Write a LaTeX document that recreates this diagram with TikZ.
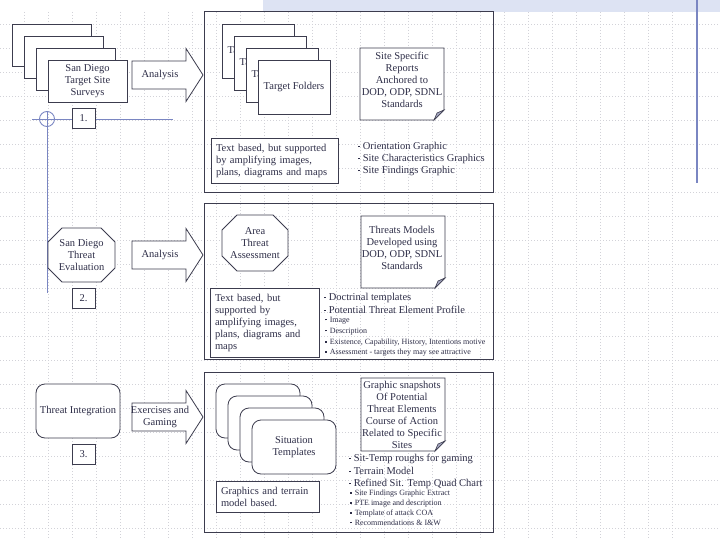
\documentclass[tikz,border=0pt]{standalone}
\usepackage{fontspec}
\setmainfont{Liberation Serif}
\usetikzlibrary{positioning, calc}
\definecolor{slideline}{HTML}{3C3C4E}
\definecolor{slidetext}{HTML}{2E2E48}
\definecolor{slidegrid}{HTML}{D2D2D8}
\definecolor{slideblue}{HTML}{7A86C2}
\definecolor{slideband}{HTML}{DDE3F3}
\definecolor{slidefold}{HTML}{A4A6C0}
\newcommand{\bulsq}{\rule[2.4pt]{1.6pt}{1.6pt}\hspace{3pt}}

\begin{document}
\begin{tikzpicture}[x=1pt, y=-1pt,
  every node/.style={text=slidetext, font=\fontsize{10.5}{12}\selectfont},
  gridline/.style={draw=slidegrid, line width=0.5pt, dash pattern=on 1pt off 2pt},
  stackbox/.style={draw=slideline, line width=0.8pt, fill=white},
  frame/.style={draw=slideline, line width=1pt},
  numbox/.style={stackbox, minimum width=23, minimum height=20, inner sep=0pt},
  textbox/.style={stackbox, align=left, inner xsep=5pt, inner ysep=0pt},
  bullet/.style={anchor=west, inner sep=0pt},
  smallbullet/.style={bullet, font=\fontsize{8}{9}\selectfont}]
\useasboundingbox (0,0) rectangle (720,540);
\fill[white] (0,0) rectangle (720,540);
% Slide background
\foreach \gx in {24,48,...,672} \draw[gridline] (\gx,12) -- (\gx,540);
\foreach \gy in {24,48,...,528} \draw[gridline] (0,\gy) -- (720,\gy);
\fill[slideband] (263,0) rectangle (720,12);
\draw[slideblue, line width=1.5pt] (697,0) -- (697,183);
\draw[slideblue, line width=0.9pt] (32,119) -- (173,119);
\draw[slideblue, line width=0.9pt] (47,111) -- (47,293);
\draw[slideblue, line width=0.9pt] (47,119) circle (7.5);
% Frames
\draw[frame] (204,12) rectangle (493,193);
\draw[frame] (204,204) rectangle (493,359);
\draw[frame] (204,372) rectangle (493,532);
% Block arrows
\foreach \ay/\aname/\atext in {75/arrA/Analysis, 255/arrB/Analysis, 417/arrC/{Exercises and\\Gaming}} {
  \draw[stackbox] (132,\ay-14) -- (186,\ay-14) -- (186,\ay-26.5) -- (203,\ay)
    -- (186,\ay+26.5) -- (186,\ay+14) -- (132,\ay+14) -- cycle;
  \node[align=center] (\aname) at (160,\ay) {\atext};
}
% Step 1
\foreach \i in {0,...,3} \draw[stackbox] (12+12*\i,24+12*\i) rectangle ++(79,42);
\node[align=center] (surveys) at (87.5,81) {San Diego\\Target Site\\Surveys};
\node[numbox] (stepA) at (83.5,118) {1.};
\foreach \i in {0,...,3} {
  \draw[stackbox] (222+12*\i,24+12*\i) rectangle ++(72,54);
  \node (folder\i) at (258+12*\i,51+12*\i) {Target Folders};
}
% Notes with folded corner
\foreach \nx/\ny/\nh in {360/48/72, 361/216/72, 361/378/73} {
  \draw[stackbox] (\nx,\ny) -- (\nx+84,\ny) -- (\nx+84,\ny+\nh-10) -- (\nx+74,\ny+\nh)
    -- (\nx,\ny+\nh) -- cycle;
  \filldraw[fill=slidefold, draw=slideline, line width=0.6pt] (\nx+84,\ny+\nh-10)
    -- (\nx+74,\ny+\nh) -- (\nx+77,\ny+\nh-7) -- cycle;
}
\node[align=center] (reports) at (402,80) {Site Specific\\Reports\\Anchored to\\DOD, ODP, SDNL\\Standards};
\node[textbox, minimum width=127, minimum height=45, text width=117] (textA) at (274.5,160.5)
  {Text based, but supported\\by amplifying images,\\plans, diagrams and maps};
\foreach \ly/\lt [count=\k] in {147/Orientation Graphic, 159/Site Characteristics Graphics,
    171/Site Findings Graphic}
  \node[bullet] (bulA\k) at (358,\ly) {\bulsq\lt};
% Step 2
\foreach \ox/\oy/\ow/\oh/\oc in {48/228/67/54/14, 222/215/66/56/15}
  \draw[stackbox] (\ox+\oc,\oy) -- (\ox+\ow-\oc,\oy) -- (\ox+\ow,\oy+\oc) -- (\ox+\ow,\oy+\oh-\oc)
    -- (\ox+\ow-\oc,\oy+\oh) -- (\ox+\oc,\oy+\oh) -- (\ox,\oy+\oh-\oc) -- (\ox,\oy+\oc) -- cycle;
\node[align=center] (evaluation) at (81.5,255) {San Diego\\Threat\\Evaluation};
\node[numbox] (stepB) at (83.5,298) {2.};
\node[align=center] (assessment) at (255,243) {Area\\Threat\\Assessment};
\node[align=center] (models) at (402,248) {Threats Models\\Developed using\\DOD, ODP, SDNL\\Standards};
\node[textbox, minimum width=109, minimum height=69, text width=99] (textB) at (264.5,322.5)
  {Text based, but\\supported by\\amplifying images,\\plans, diagrams and\\maps};
\node[bullet] (bulB1) at (324,298) {\bulsq Doctrinal templates};
\node[bullet] (bulB2) at (324,310) {\bulsq Potential Threat Element Profile};
\foreach \ly/\lt [count=\k] in {321/Image, 332/Description,
    343/{Existence, Capability, History, Intentions motive},
    353/{Assessment - targets they may see attractive}}
  \node[smallbullet] (subB\k) at (325,\ly) {\bulsq\lt};
% Step 3
\node[stackbox, rounded corners=9pt, minimum width=84, minimum height=54] (integration)
  at (78,411) {Threat Integration};
\node[numbox] (stepC) at (83.5,454) {3.};
\foreach \i in {0,...,3} \draw[stackbox, rounded corners=9pt] (216+12*\i,384+12*\i) rectangle ++(84,54);
\node[align=center] (situation) at (294,447) {Situation\\Templates};
\node[align=center] (snapshots) at (402,415) {Graphic snapshots\\Of Potential\\Threat Elements\\Course of Action\\Related to Specific\\Sites};
\node[textbox, minimum width=103, minimum height=31, text width=93] (textC) at (267.5,496.5)
  {Graphics and terrain\\model based.};
\foreach \ly/\lt [count=\k] in {459/Sit-Temp roughs for gaming, 471/Terrain Model,
    484/Refined Sit. Temp Quad Chart}
  \node[bullet] (bulC\k) at (349,\ly) {\bulsq\lt};
\foreach \ly/\lt [count=\k] in {494/Site Findings Graphic Extract, 504/PTE image and description,
    514/Template of attack COA, 523/Recommendations \& I\&W}
  \node[smallbullet] (subC\k) at (350,\ly) {\bulsq\lt};
\end{tikzpicture}
\end{document}
